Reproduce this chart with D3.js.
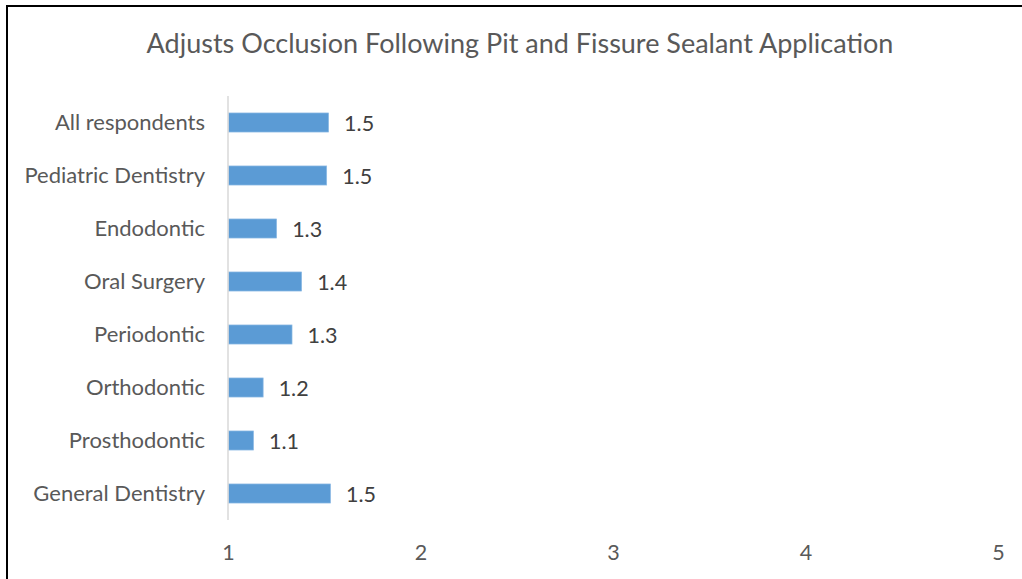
<!DOCTYPE html>
<html>
<head>
<meta charset="utf-8">
<script src="https://cdn.jsdelivr.net/npm/d3@7"></script>
<style>
  html, body { margin: 0; padding: 0; background: #fff; }
  svg { display: block; }
  text { font-family: Lato, "Open Sans", sans-serif; }
</style>
</head>
<body>
<svg id="chart" width="1022" height="579"></svg>
<script>
// Categories, top to bottom
const categories = [
  "All respondents",
  "Pediatric Dentistry",
  "Endodontic",
  "Oral Surgery",
  "Periodontic",
  "Orthodontic",
  "Prosthodontic",
  "General Dentistry"
];
// Mean scores
const values = [1.52, 1.51, 1.25, 1.38, 1.33, 1.18, 1.13, 1.53];
// Axis ticks
const xTicks = [1, 2, 3, 4, 5];
const title = "Adjusts Occlusion Following Pit and Fissure Sealant Application";

const data = categories.map((c, i) => ({ category: c, value: values[i] }));

const svg = d3.select("#chart");
const W = 1022, H = 579;
const margin = { left: 228, right: 24, top: 96, bottom: 59 };

// Frame
svg.append("path")
  .attr("d", `M7,${H} L7,6 L${W},6`)
  .attr("fill", "none")
  .attr("stroke", "#000")
  .attr("stroke-width", 2);

const x = d3.scaleLinear()
  .domain([1, 5])
  .range([margin.left, W - margin.right]);

const y = d3.scaleBand()
  .domain(categories)
  .range([margin.top, H - margin.bottom])
  .paddingInner(0.64)
  .paddingOuter(0.32);

// Title
svg.append("text")
  .attr("x", 520)
  .attr("y", 53)
  .attr("text-anchor", "middle")
  .attr("font-size", 27)
  .attr("fill", "#595959")
  .text(title);

// Bars
svg.append("g").selectAll("rect")
  .data(data)
  .join("rect")
  .attr("x", x(1) + 0.5)
  .attr("y", d => y(d.category))
  .attr("width", d => x(d.value) - x(1))
  .attr("height", y.bandwidth())
  .attr("fill", "#5b9bd5")
  .attr("stroke", "#8fbbe4")
  .attr("stroke-width", 0.7);

// Vertical category axis line
svg.append("line")
  .attr("x1", x(1)).attr("x2", x(1))
  .attr("y1", margin.top).attr("y2", H - margin.bottom)
  .attr("stroke", "#d9d9d9")
  .attr("stroke-width", 1.5);

// Category labels
svg.append("g").selectAll("text")
  .data(data)
  .join("text")
  .attr("x", 205)
  .attr("y", d => y(d.category) + y.bandwidth() / 2)
  .attr("dy", "0.35em")
  .attr("text-anchor", "end")
  .attr("font-size", 22)
  .attr("fill", "#595959")
  .text(d => d.category);

// Value labels
const fmt = d3.format(".1f");
svg.append("g").selectAll("text")
  .data(data)
  .join("text")
  .attr("x", d => x(d.value) + 16)
  .attr("y", d => y(d.category) + y.bandwidth() / 2 + 1)
  .attr("dy", "0.35em")
  .attr("font-size", 21.5)
  .attr("fill", "#404040")
  .text(d => fmt(d.value));

// Value axis (labels only)
const xAxis = d3.axisBottom(x)
  .tickValues(xTicks)
  .tickFormat(d3.format("d"))
  .tickSize(0)
  .tickPadding(0);

const gx = svg.append("g")
  .attr("transform", `translate(0, ${H - margin.bottom + 32})`)
  .call(xAxis);
gx.select(".domain").remove();
gx.selectAll("text")
  .attr("font-size", 21.5)
  .attr("fill", "#595959")
  .attr("font-family", "Lato, 'Open Sans', sans-serif")
  .attr("dy", "0.35em");
</script>
</body>
</html>
